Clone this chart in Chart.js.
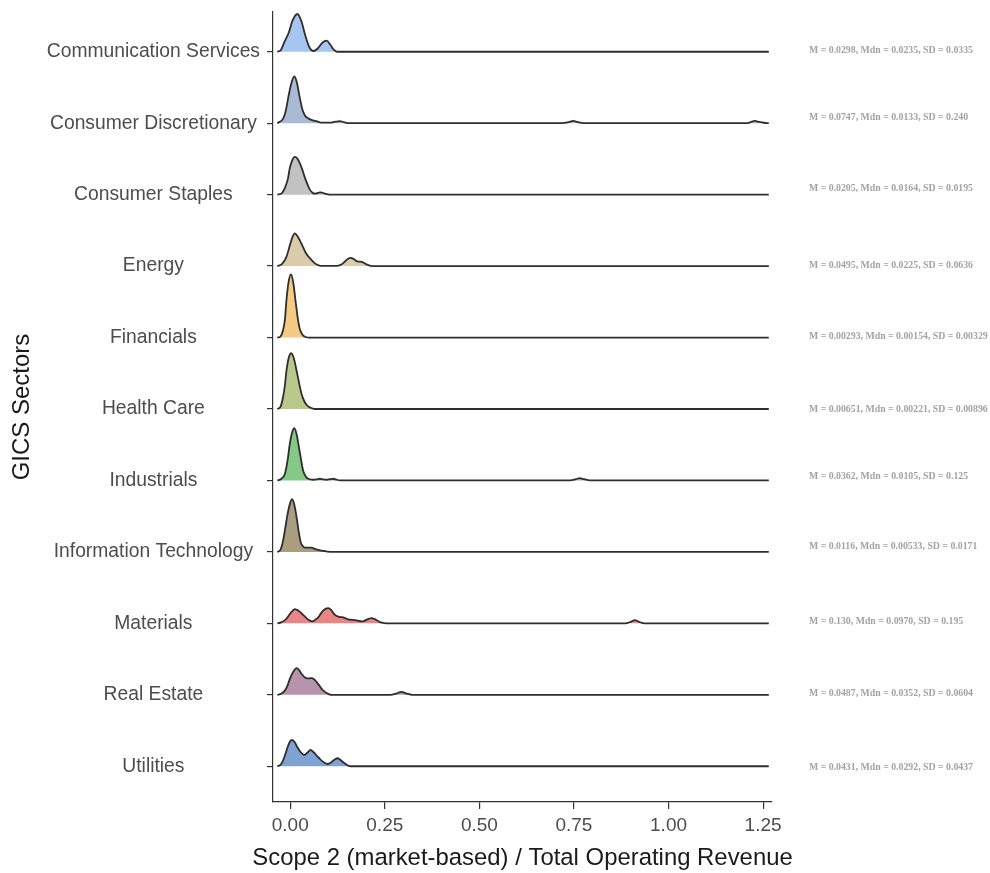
<!DOCTYPE html>
<html><head><meta charset="utf-8">
<script src="https://cdn.jsdelivr.net/npm/chart.js@4.4.1/dist/chart.umd.min.js"></script>
<style>html,body{margin:0;padding:0;background:#fff}</style>
</head><body>
<canvas id="c" width="990" height="873"></canvas>
<script>
// ---- data (x = ratio, h = ridge height in % of row spacing) ----
const sectors = ["Communication Services","Consumer Discretionary","Consumer Staples","Energy","Financials","Health Care","Industrials","Information Technology","Materials","Real Estate","Utilities"];
const statLabels = [
  "M = 0.0298, Mdn = 0.0235, SD = 0.0335",
  "M = 0.0747, Mdn = 0.0133, SD = 0.240",
  "M = 0.0205, Mdn = 0.0164, SD = 0.0195",
  "M = 0.0495, Mdn = 0.0225, SD = 0.0636",
  "M = 0.00293, Mdn = 0.00154, SD = 0.00329",
  "M = 0.00651, Mdn = 0.00221, SD = 0.00896",
  "M = 0.0362, Mdn = 0.0105, SD = 0.125",
  "M = 0.0116, Mdn = 0.00533, SD = 0.0171",
  "M = 0.130, Mdn = 0.0970, SD = 0.195",
  "M = 0.0487, Mdn = 0.0352, SD = 0.0604",
  "M = 0.0431, Mdn = 0.0292, SD = 0.0437"
];
const xTicks = [0, 0.25, 0.5, 0.75, 1.0, 1.25];
const xTitle = "Scope 2 (market-based) / Total Operating Revenue";
const yTitle = "GICS Sectors";

const communicationServices = [[-0.034,0],[-0.025,2.1],[-0.015,14],[-0.004,26.6],[0.006,43.4],[0.019,52.8],[0.030,42],[0.040,22.4],[0.050,7],[0.061,1],[0.072,4.2],[0.085,12.6],[0.096,15.4],[0.106,9.8],[0.115,2.8],[0.124,0],[1.265,0]];
const consumerDiscretionary = [[-0.034,0],[-0.019,6],[-0.012,16.8],[-0.005,36.4],[0.003,56],[0.011,65.4],[0.018,56],[0.025,36.4],[0.032,19.6],[0.039,10.8],[0.047,7],[0.056,4.6],[0.069,2.8],[0.085,0.7],[0.105,0.7],[0.120,2.1],[0.131,2.8],[0.142,1.4],[0.155,0],[0.720,0],[0.736,1.4],[0.748,3.1],[0.760,1.4],[0.775,0],[1.205,0],[1.217,1.4],[1.228,3.1],[1.240,1.7],[1.252,0.6],[1.265,0]];
const consumerStaples = [[-0.034,0],[-0.022,2.1],[-0.014,9.4],[-0.006,22.4],[-0.001,37.4],[0.005,47.6],[0.012,52.8],[0.019,50.4],[0.025,44.4],[0.032,35],[0.039,23.4],[0.046,14],[0.052,7],[0.060,2.1],[0.067,1.4],[0.075,2.8],[0.081,3.2],[0.090,1.7],[0.100,0.3],[0.105,0],[1.265,0]];
const energy = [[-0.034,0],[-0.022,2.8],[-0.010,13],[0.000,30.8],[0.006,40.6],[0.012,45.8],[0.018,42.7],[0.025,36.4],[0.034,26.6],[0.043,16.8],[0.052,11.2],[0.061,6],[0.070,2.1],[0.080,0.4],[0.125,0.4],[0.135,2.1],[0.144,6],[0.152,9.8],[0.160,11.6],[0.168,9.8],[0.175,7],[0.182,6.3],[0.189,6],[0.196,4.2],[0.202,2.4],[0.210,0.6],[0.218,0],[1.265,0]];
const financials = [[-0.034,0],[-0.026,1.4],[-0.019,10.2],[-0.014,25.2],[-0.010,51.8],[-0.005,75.6],[0.002,88.2],[0.008,77],[0.014,51.8],[0.019,30.8],[0.025,12.6],[0.032,4.2],[0.039,1],[0.048,0],[1.265,0]];
const healthCare = [[-0.034,0],[-0.026,2.8],[-0.019,16.4],[-0.014,33.6],[-0.010,53.2],[-0.004,71.4],[0.003,78],[0.010,70],[0.017,53.2],[0.024,35],[0.030,21],[0.037,11.2],[0.043,6],[0.050,2.8],[0.056,1.4],[0.065,0],[1.265,0]];
const industrials = [[-0.034,0],[-0.024,2.1],[-0.014,9.4],[-0.007,28],[-0.001,51.4],[0.005,67.2],[0.011,73.2],[0.017,64.4],[0.023,46.6],[0.029,28],[0.034,14],[0.041,5.6],[0.048,2.4],[0.061,1],[0.070,1.4],[0.078,2.4],[0.087,1.4],[0.096,1],[0.105,1.7],[0.114,2.4],[0.123,1],[0.131,0],[0.740,0],[0.755,1.7],[0.765,3.2],[0.777,1.7],[0.792,0],[1.265,0]];
const informationTechnology = [[-0.034,0],[-0.026,2.8],[-0.019,15.4],[-0.013,33.6],[-0.007,52.8],[0.000,68.6],[0.005,73.8],[0.011,65.8],[0.017,48],[0.023,26.6],[0.028,13],[0.034,7.7],[0.039,6],[0.048,6],[0.056,6],[0.065,4.2],[0.074,2.8],[0.083,1.7],[0.092,1],[0.100,0.3],[0.109,0],[1.265,0]];
const materials = [[-0.034,0],[-0.024,1.4],[-0.014,4.6],[-0.007,8.4],[-0.001,13],[0.006,17.5],[0.012,20],[0.018,18.9],[0.025,16.4],[0.034,11.9],[0.043,7.4],[0.051,4.2],[0.058,2.8],[0.066,4.9],[0.074,8.4],[0.080,13],[0.087,17.8],[0.094,20.7],[0.101,21.4],[0.108,18.9],[0.114,14.4],[0.120,11.2],[0.127,9.4],[0.134,8.7],[0.140,8.4],[0.147,7],[0.153,5.6],[0.162,5],[0.171,4.6],[0.180,3.6],[0.189,2.8],[0.196,3.6],[0.202,5.2],[0.209,6.7],[0.215,7.4],[0.222,6.3],[0.228,4.6],[0.235,2.5],[0.242,1],[0.255,0],[0.885,0],[0.900,2.1],[0.911,4.6],[0.922,2.1],[0.937,0],[1.265,0]];
const realEstate = [[-0.034,0],[-0.024,1.4],[-0.014,6],[-0.007,13.3],[-0.001,22.4],[0.008,32.2],[0.017,37.4],[0.024,34.3],[0.030,29.4],[0.037,25.2],[0.043,23.4],[0.050,23.1],[0.056,23.4],[0.063,21.7],[0.070,17.8],[0.077,13],[0.083,8.4],[0.090,4.9],[0.096,2.4],[0.103,0.7],[0.109,0],[0.265,0],[0.280,1.7],[0.294,4.2],[0.308,1.7],[0.322,0],[1.265,0]];
const utilities = [[-0.034,0],[-0.026,2.1],[-0.019,8],[-0.013,16.8],[-0.007,26.6],[-0.001,34.3],[0.005,36.8],[0.012,33.6],[0.019,26.6],[0.028,19.6],[0.037,15.8],[0.045,18.9],[0.054,22.8],[0.062,19.6],[0.070,15],[0.077,11.2],[0.083,8],[0.091,4.9],[0.099,3.2],[0.107,4.9],[0.114,8],[0.120,10.2],[0.125,11.2],[0.132,9.1],[0.140,5.6],[0.147,2.8],[0.153,1],[0.160,0],[1.265,0]];

const ridges = [communicationServices, consumerDiscretionary, consumerStaples, energy, financials, healthCare, industrials, informationTechnology, materials, realEstate, utilities];

// ---- styling ----
const fills = ["#a6c5f1","#aab9d4","#c2c2c2","#dccbaa","#f4ca85","#b9c98b","#84c986","#ab9d80","#e98585","#b893ac","#80a2d2"];
const statDy = [-1,-5.5,-6,-1,-1.4,0.4,-3.6,-5,-1.5,-1.3,0.7];
const nRows = sectors.length;
const rowOf = i => nRows - i;  // top row = highest value
const sans = "'Liberation Sans', Arial, Helvetica, sans-serif";

const datasets = ridges.map((r, i) => ({
  label: sectors[i],
  data: r.map(p => ({x: p[0], y: rowOf(i) + p[1] / 100})),
  borderColor: "#2e2e2e",
  borderWidth: 1.8,
  backgroundColor: fills[i],
  fill: {value: rowOf(i)},
  pointRadius: 0,
  pointHoverRadius: 0,
  cubicInterpolationMode: "monotone"
}));

const textPlugin = {
  id: "texts",
  afterDraw(chart) {
    const ctx = chart.ctx, ys = chart.scales.y, ca = chart.chartArea;
    ctx.save();
    ctx.font = "bold 9.8px 'Liberation Serif', 'Times New Roman', serif";
    ctx.fillStyle = "#a3a3a3";
    ctx.textAlign = "left";
    ctx.textBaseline = "middle";
    statLabels.forEach((t, i) => {
      ctx.fillText(t, 809, ys.getPixelForValue(rowOf(i)) + statDy[i]);
    });
    // x-axis title (drawn without width compression)
    ctx.font = "23.9px " + sans;
    ctx.fillStyle = "#1a1a1a";
    ctx.textAlign = "center";
    ctx.fillText(xTitle, (ca.left + ca.right) / 2, 858);
    ctx.restore();
  }
};

const noPad = s => { s.paddingTop = 0; s.paddingBottom = 0; s.paddingLeft = 0; s.paddingRight = 0; };
new Chart(document.getElementById("c"), {
  type: "line",
  data: {datasets},
  plugins: [textPlugin],
  options: {
    responsive: false,
    animation: false,
    events: [],
    layout: {padding: {top: 12, right: 218, left: 0, bottom: 0}},
    plugins: {legend: {display: false}, tooltip: {enabled: false}},
    scales: {
      x: {
        type: "linear",
        min: -0.0455, max: 1.2735,
        afterBuildTicks: s => { s.ticks = xTicks.map(v => ({value: v})); },
        afterFit: s => { s.height = 71; noPad(s); },
        ticks: {color: "#4d4d4d", font: {family: sans, size: 19}, padding: 5, callback: v => Number(v).toFixed(2), maxRotation: 0},
        grid: {drawOnChartArea: false, drawTicks: true, tickLength: 7, color: "#333", lineWidth: 1.2},
        border: {display: true, color: "#333", width: 1.2},
        title: {display: false}
      },
      y: {
        type: "linear",
        min: 0.5, max: 11.556,
        afterBuildTicks: s => { s.ticks = sectors.map((_, i) => ({value: rowOf(i)})); },
        afterFit: s => { s.width = 273; noPad(s); },
        ticks: {color: "#4d4d4d", font: {family: sans, size: 19.3}, padding: 7, crossAlign: "center", callback: v => sectors[nRows - v]},
        grid: {drawOnChartArea: false, drawTicks: true, tickLength: 6, color: "#333", lineWidth: 1.2},
        border: {display: true, color: "#333", width: 1.2},
        title: {display: true, text: yTitle, color: "#1a1a1a", font: {family: sans, size: 24}, padding: {top: 8, bottom: 0}}
      }
    }
  }
});
</script>
</body></html>
